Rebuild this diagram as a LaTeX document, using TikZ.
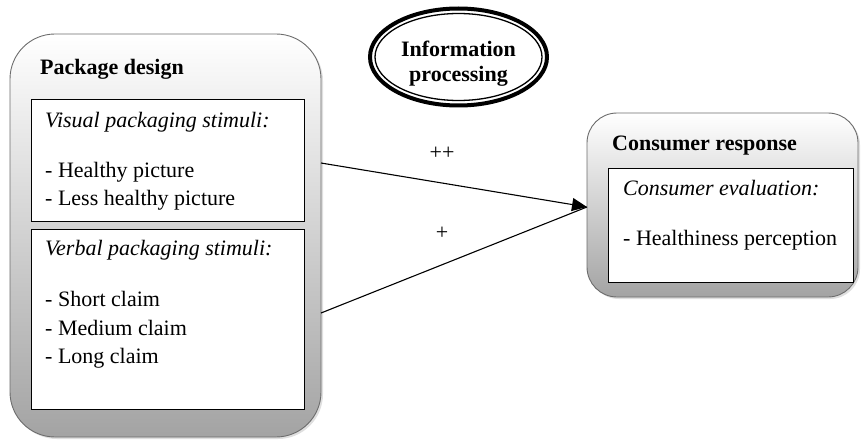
\documentclass[tikz,border=0pt]{standalone}
\usepackage{fontspec}
\setmainfont{Liberation Serif}
\usetikzlibrary{arrows.meta,shapes.geometric,shadows}
\begin{document}
\begin{tikzpicture}[x=1pt,y=-1pt,
  outerbox/.style={draw=gray!85!black, line width=0.9pt, top color=white, bottom color=gray!72,
    drop shadow={shadow xshift=2pt, shadow yshift=-2pt, opacity=0.25},
    inner sep=0, outer sep=0},
  innerbox/.style={draw=black, line width=1pt, fill=white, inner sep=0, outer sep=0},
  txt/.style={anchor=base west, inner sep=0, font=\fontsize{22}{28}\selectfont},
  ttl/.style={txt, font=\fontsize{22}{28}\selectfont\bfseries},
  itl/.style={txt, font=\fontsize{22}{28}\selectfont\itshape},
  ctl/.style={anchor=base, inner sep=0, font=\fontsize{22}{28}\selectfont\bfseries},
  conn/.style={line width=1.1pt, black},
  lbl/.style={inner sep=0, font=\fontsize{22}{28}\selectfont}
]
\useasboundingbox (0,0) rectangle (861,441);
% Package design
\node[outerbox, rounded corners=45pt, minimum width=311pt, minimum height=403pt] (pkg) at (165.5,235.5) {};
\node[innerbox, minimum width=273pt, minimum height=121pt] (vis) at (167.5,160.5) {};
\node[innerbox, minimum width=273pt, minimum height=180pt] (verb) at (167.5,319) {};
\node[ttl] (pkgt) at (40,75) {Package design};
\node[itl] (vist) at (45,128) {Visual packaging stimuli:};
\node[txt] (v1) at (45,177) {- Healthy picture};
\node[txt] (v2) at (45,205) {- Less healthy picture};
\node[itl] (vbt) at (45,255) {Verbal packaging stimuli:};
\node[txt] (b1) at (45,306) {- Short claim};
\node[txt] (b2) at (45,335) {- Medium claim};
\node[txt] (b3) at (45,363) {- Long claim};
% Consumer response
\node[outerbox, rounded corners=30pt, minimum width=271pt, minimum height=184pt] (cons) at (722.5,205) {};
\node[innerbox, minimum width=245pt, minimum height=114pt] (eval) at (730.5,225) {};
\node[ttl] (const) at (612,150) {Consumer response};
\node[itl] (evalt) at (623,195) {Consumer evaluation:};
\node[txt] (e1) at (623,245) {- Healthiness perception};
% Information processing
\node[ellipse, draw, line width=4pt, minimum width=177pt, minimum height=97pt, inner sep=0, outer sep=0] (infoout) at (458.5,57) {};
\node[ellipse, draw, line width=1.3pt, minimum width=167pt, minimum height=87pt, inner sep=0, outer sep=0] (info) at (458.5,57) {};
\node[ctl] (info1) at (458.5,57) {Information};
\node[ctl] (info2) at (458.5,82) {processing};
% connectors
\coordinate (s1) at (321,163);
\coordinate (s2) at (321,313);
\coordinate (tip) at (587,207);
\draw[conn] (s2) -- (tip);
\draw[conn, -{Triangle[length=15pt,width=13pt]}] (s1) -- (tip);
\node[lbl] (pp) at (442,153) {++};
\node[lbl] (p) at (442,233) {+};
\end{tikzpicture}
\end{document}
